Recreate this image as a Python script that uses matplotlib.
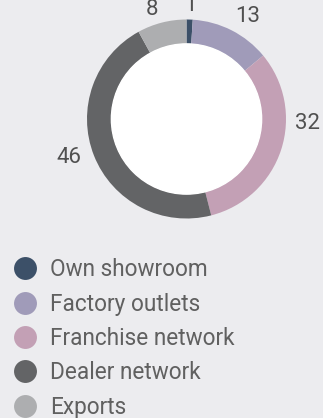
import matplotlib.pyplot as plt
from matplotlib.lines import Line2D
import numpy as np

plt.rcParams['font.family'] = ['Roboto', 'DejaVu Sans']

channels = ['Own showroom', 'Factory outlets', 'Franchise network', 'Dealer network', 'Exports']
shares = [1, 13, 32, 46, 8]
colors = ['#3c5068', '#a09bb9', '#c3a0b5', '#636466', '#adaeb0']
# angular nudge (degrees) and distance from centre for each value label
label_shift = [0, -4, 16, -3.6, 3]
label_r = [1.146, 1.2, 1.22, 1.245, 1.15]

bg = '#ececef'
fig = plt.figure(figsize=(3.23, 4.18), dpi=100, facecolor=bg)

# donut axes, centred near the top of the figure
W, H = 323, 418
cx, cy, r = 186.5, 119, 99.5
ax = fig.add_axes([(cx - r) / W, 1 - (cy + r) / H, 2 * r / W, 2 * r / H])
ax.set_facecolor(bg)
wedges, _ = ax.pie(shares, colors=colors, startangle=90, counterclock=False,
                   radius=1, wedgeprops=dict(width=0.245, edgecolor='none'))
ax.add_patch(plt.Circle((0, 0), 0.755, color='white', zorder=3))
ax.set_xlim(-1, 1)
ax.set_ylim(-1, 1)
ax.set_aspect('equal')
ax.axis('off')

# value labels outside the ring
cum = np.cumsum([0] + shares[:-1])
total = sum(shares)
for v, c0, sh, lr in zip(shares, cum, label_shift, label_r):
    ang = np.deg2rad(90 - (c0 + v / 2) / total * 360 + sh)
    ax.text(lr * np.cos(ang), lr * np.sin(ang), str(v), ha='center', va='center',
            fontsize=16, color='#505050')

handles = [Line2D([], [], marker='o', linestyle='none', markersize=16.5,
                  markerfacecolor=c, markeredgecolor='none') for c in colors]
leg = fig.legend(handles, channels, loc='upper left', bbox_to_anchor=(-0.014, 0.42),
                 frameon=False, fontsize=16.3, labelspacing=0.5, handletextpad=0.5,
                 borderaxespad=0.3, handlelength=1.2, labelcolor='#606060')

fig.savefig('out.png', dpi=100, facecolor=bg)
